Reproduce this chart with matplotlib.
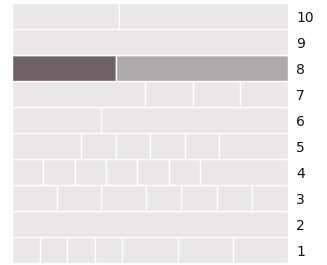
import matplotlib.pyplot as plt

# rows 1..10, segment sizes
rows = [1, 2, 3, 4, 5, 6, 7, 8, 9, 10]
segments = [
    [1, 1, 1, 1, 2, 2, 2],        # 1
    [1],                          # 2
    [5, 5, 5, 4, 4, 4, 4],        # 3
    [5, 5, 5, 5, 5, 5, 14],       # 4
    [2, 1, 1, 1, 1, 2],           # 5
    [10, 21],                     # 6
    [14, 5, 5, 5],                # 7
    [3, 5],                       # 8
    [1],                          # 9
    [7, 11],                      # 10
]
highlight_row = 8

light = '#e9e7e8'
dark = '#6f6166'
mid = '#acaaab'

fig = plt.figure(figsize=(3.27, 2.65), dpi=100)
ax = fig.add_axes([12 / 327, 2 / 265, 276 / 327, 260 / 265])

for r, segs in zip(rows, segments):
    total = sum(segs)
    left = 0
    for i, s in enumerate(segs):
        w = s / total
        if r == highlight_row:
            c = dark if i == 0 else mid
        else:
            c = light
        ax.barh(r, w, left=left, height=1.0, color=c, edgecolor='white', linewidth=1.0)
        left += w

ax.set_xlim(0, 1)
ax.set_ylim(0.5, 10.5)
ax.set_yticks(rows)
ax.set_yticklabels([str(r) for r in rows])
ax.yaxis.tick_right()
ax.tick_params(axis='y', length=0, pad=6, labelsize=10, labelcolor='#111111')
ax.set_xticks([])
for s in ax.spines.values():
    s.set_visible(False)

fig.savefig('out.png', dpi=100)
